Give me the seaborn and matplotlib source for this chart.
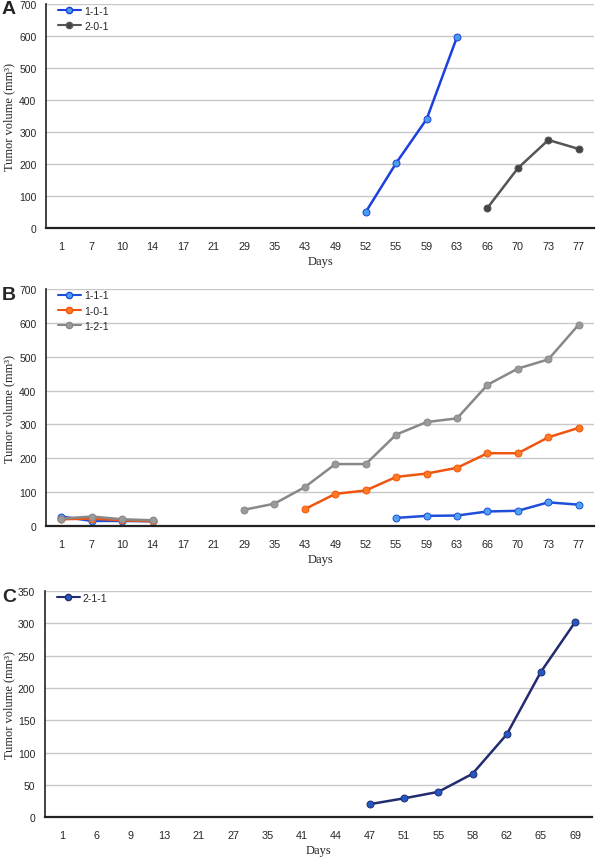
import numpy as np
import matplotlib
matplotlib.use("Agg")
import matplotlib.pyplot as plt
from matplotlib.lines import Line2D
import seaborn as sns

nan = np.nan

# panel A / B share the same day categories
days_ab = ["1", "7", "10", "14", "17", "21", "29", "35", "43", "49",
           "52", "55", "59", "63", "66", "70", "73", "77"]
a_111 = [nan, nan, nan, nan, nan, nan, nan, nan, nan, nan,
         50, 203, 340, 597, nan, nan, nan, nan]
a_201 = [nan, nan, nan, nan, nan, nan, nan, nan, nan, nan,
         nan, nan, nan, nan, 63, 187, 275, 247]

b_111 = [28, 15, 15, 14, nan, nan, nan, nan, nan, nan,
         nan, 24, 30, 31, 43, 45, 70, 63]
b_101 = [20, 22, 17, 14, nan, nan, nan, nan, 50, 95,
         105, 145, 155, 172, 215, 215, 262, 290]
b_121 = [22, 28, 20, 17, nan, nan, 48, 66, 115, 183,
         183, 270, 307, 318, 417, 465, 492, 595]

days_c = ["1", "6", "9", "13", "21", "27", "35", "41", "44", "47",
          "51", "55", "58", "62", "65", "69"]
c_211 = [nan, nan, nan, nan, nan, nan, nan, nan, nan, 20,
         29, 39, 67, 128, 225, 302]

sns.set_style("white")
plt.rcParams["font.family"] = ["Liberation Sans", "DejaVu Sans"]

fig = plt.figure(figsize=(6, 8.62), dpi=100)


def segments(vals):
    # split a series into contiguous non-missing runs
    runs, cur = [], []
    for i, v in enumerate(vals):
        if np.isnan(v):
            if cur:
                runs.append(cur)
            cur = []
        else:
            cur.append(i)
    if cur:
        runs.append(cur)
    return runs


def draw_panel(rect, days, series, ymax, ystep, letter):
    ax = fig.add_axes(rect)
    for name, vals, lc, mc in series:
        v = np.array(vals, dtype=float)
        for run in segments(v):
            sns.lineplot(x=np.array(run), y=v[run], ax=ax, color=lc, linewidth=1.8,
                         marker="o", markersize=5, markerfacecolor=mc,
                         markeredgecolor=lc, markeredgewidth=0.7,
                         estimator=None, sort=False)
    ax.set_xlim(-0.5, len(days) - 0.5)
    ax.set_ylim(0, ymax)
    ax.set_xticks(range(len(days)))
    ax.set_xticklabels(days)
    ax.set_yticks(np.arange(0, ymax + 1, ystep))
    ax.yaxis.grid(True, color="#c8c8c8", linewidth=1)
    ax.xaxis.grid(False)
    ax.set_axisbelow(True)
    for s in ["top", "right"]:
        ax.spines[s].set_visible(False)
    ax.spines["left"].set_color("#222222")
    ax.spines["left"].set_linewidth(1.2)
    ax.spines["bottom"].set_color("#222222")
    ax.spines["bottom"].set_linewidth(1.6)
    ax.tick_params(axis="x", length=0, pad=9, labelsize=7.8)
    ax.tick_params(axis="y", length=3, color="#bbbbbb", pad=4, labelsize=7.5)
    ax.set_xlabel("Days", family="Liberation Serif", fontsize=9, labelpad=3)
    ax.set_ylabel("Tumor volume (mm³)", family="Liberation Serif", fontsize=9,
                  va="center", ha="center")
    # centre of the y label sits about 9 px from the left edge of the figure
    ax.yaxis.set_label_coords((9 / 600 - rect[0]) / rect[2], 0.5)
    handles = [Line2D([], [], color=lc, linewidth=1.5, marker="o", markersize=4.5,
                      markerfacecolor=mc, markeredgecolor=lc) for _, _, lc, mc in series]
    ax.legend(handles, [s[0] for s in series], loc="upper left", frameon=False,
              fontsize=7.5, handlelength=2.2, handletextpad=0.3, labelspacing=0.5,
              borderaxespad=0.2, bbox_to_anchor=(0.01, 1.02))
    fig.text(0.003, rect[1] + rect[3] + 0.004, letter, fontsize=14, fontweight="bold",
             va="top", ha="left")
    return ax


draw_panel([0.077, 0.7343, 0.913, 0.26], days_ab,
           [("1-1-1", a_111, "#1c3fe0", "#4a9de8"),
            ("2-0-1", a_201, "#555555", "#444444")],
           700, 100, "A")

draw_panel([0.077, 0.3886, 0.913, 0.275], days_ab,
           [("1-1-1", b_111, "#1f4fd8", "#4fa2f0"),
            ("1-0-1", b_101, "#f05510", "#ff7a22"),
            ("1-2-1", b_121, "#888888", "#9a9a9a")],
           700, 100, "B")

draw_panel([0.075, 0.051, 0.912, 0.262], days_c,
           [("2-1-1", c_211, "#232c70", "#2458c2")],
           350, 50, "C")

fig.savefig("out.png", dpi=100)
